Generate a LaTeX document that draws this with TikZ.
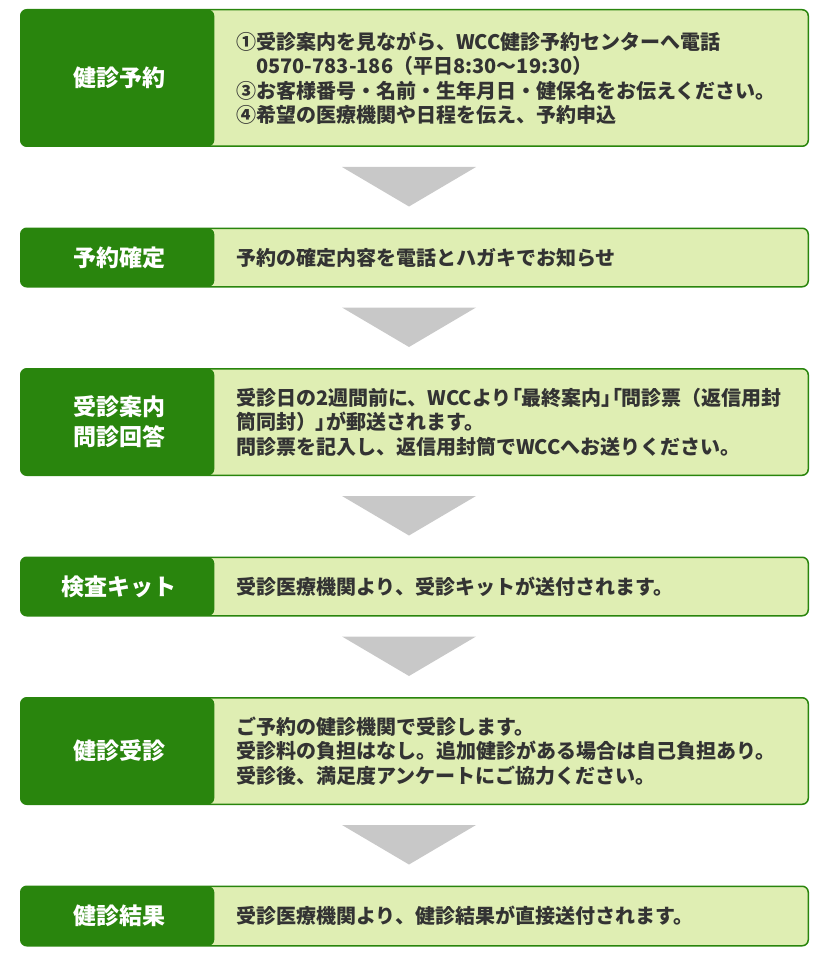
\documentclass[tikz,border=0pt]{standalone}
\usepackage{fontspec}
\setmainfont{Noto Sans CJK JP}
\newfontfamily\paltfont{Noto Sans CJK JP}[RawFeature=+palt]
\usetikzlibrary{positioning,calc}
\definecolor{darkgrn}{HTML}{29850D}
\definecolor{palegrn}{HTML}{DFEEB3}
\definecolor{arrowgray}{HTML}{C8C8C8}
\definecolor{txtgray}{HTML}{333333}

\begin{document}
\begin{tikzpicture}[x=1pt,y=1pt,node distance=80.5pt]
\tikzstyle{stepbox}=[rectangle,rounded corners=6pt,draw=darkgrn,line width=1.5pt,fill=palegrn,
  minimum width=787.5pt,inner sep=0pt,
  path picture={\fill[darkgrn] (path picture bounding box.north west) rectangle ([xshift=193.5pt]path picture bounding box.south west);}]
\tikzstyle{steplabel}=[text=white,font=\bfseries\fontsize{23}{30}\selectfont,align=center,inner sep=0pt]
\tikzstyle{steptext}=[text=txtgray,font=\bfseries\fontsize{20}{24.5}\selectfont,align=left,inner sep=0pt,anchor=west]
\tikzstyle{downtri}=[fill=arrowgray]
\useasboundingbox (0,0) rectangle (830,-960);
\node[stepbox,minimum height=136.5pt] (yoyaku) at (414.5,-78) {};
\node[stepbox,minimum height=58.5pt,below=of yoyaku] (kakutei) {};
\node[stepbox,minimum height=106.5pt,below=of kakutei] (monshin) {};
\node[stepbox,minimum height=58.5pt,below=of monshin] (kit) {};
\node[stepbox,minimum height=106.5pt,below=of kit] (jushin) {};
\node[stepbox,minimum height=59.5pt,below=of jushin] (kekka) {};
\node[steplabel] (yoyakuL) at ($(yoyaku.west)+(99,0)$) {健診予約};
\node[steplabel] (kakuteiL) at ($(kakutei.west)+(99,0)$) {予約確定};
\node[steplabel] (monshinL) at ($(monshin.west)+(99,0)$) {受診案内\\問診回答};
\node[steplabel] (kitL) at ($(kit.west)+(99,0)$) {検査キット};
\node[steplabel] (jushinL) at ($(jushin.west)+(99,0)$) {健診受診};
\node[steplabel] (kekkaL) at ($(kekka.west)+(99,0)$) {健診結果};
\node[steptext] (yoyakuT) at ($(yoyaku.west)+(216,0)$) {①受診案内を見ながら、WCC健診予約センターへ電話\\
  \hspace*{1em}0570-783-186（平日8:30〜19:30）\\
  ③お客様番号・名前・生年月日・健保名をお伝えください。\\
  ④希望の医療機関や日程を伝え、予約申込};
\node[steptext] (kakuteiT) at ($(kakutei.west)+(216,0)$) {予約の確定内容を電話とハガキでお知らせ};
\node[steptext] (monshinT) at ($(monshin.west)+(216,0)$) {受診日の2週間前に、WCCより{\paltfont 「}最終案内{\paltfont 」「}問診票（返信用封\\
  筒同封）{\paltfont 」}が郵送されます。\\
  問診票を記入し、返信用封筒でWCCへお送りください。};
\node[steptext] (kitT) at ($(kit.west)+(216,0)$) {受診医療機関より、受診キットが送付されます。};
\node[steptext] (jushinT) at ($(jushin.west)+(216,0)$) {ご予約の健診機関で受診します。\\
  受診料の負担はなし。追加健診がある場合は自己負担あり。\\
  受診後、満足度アンケートにご協力ください。};
\node[steptext] (kekkaT) at ($(kekka.west)+(216,0)$) {受診医療機関より、健診結果が直接送付されます。};
\foreach \a/\b in {yoyaku/kakutei,kakutei/monshin,monshin/kit,kit/jushin,jushin/kekka}
  \fill[downtri] ($(\a.south)+(-72.5,-20)$) -- ($(\a.south)+(61.5,-20)$) -- ($(\b.north)+(-5.5,21)$) -- cycle;
\end{tikzpicture}
\end{document}
